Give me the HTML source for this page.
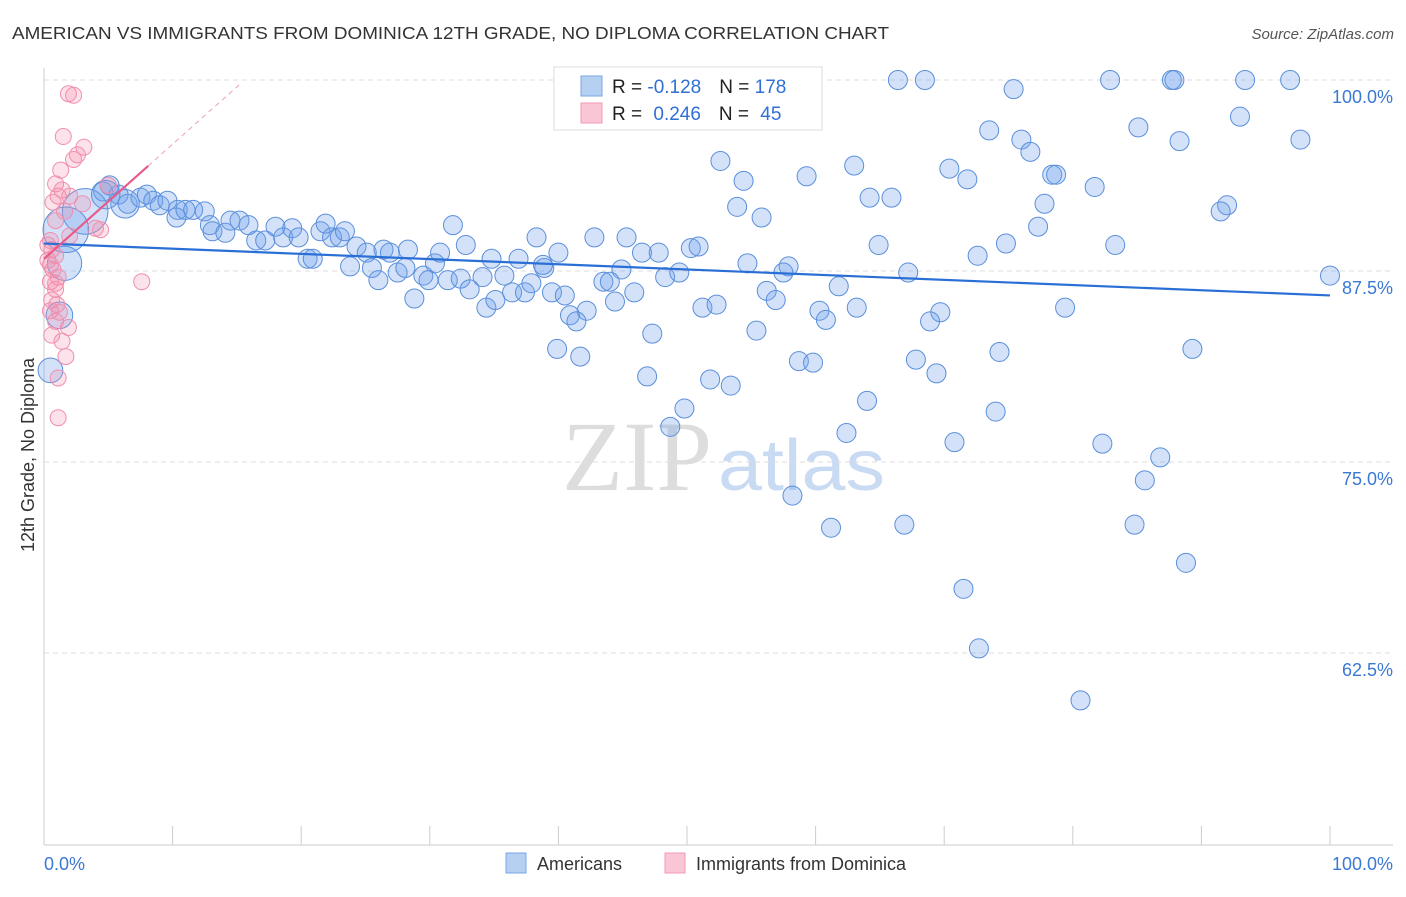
<!DOCTYPE html>
<html><head><meta charset="utf-8"><style>
body{margin:0;background:#fff;font-family:"Liberation Sans",sans-serif;}
svg text{font-family:"Liberation Sans",sans-serif;}
</style></head><body>
<svg id="chart" width="1406" height="892" xmlns="http://www.w3.org/2000/svg">
<text x="12" y="39" font-size="17.5" fill="#333" textLength="877" lengthAdjust="spacingAndGlyphs">AMERICAN VS IMMIGRANTS FROM DOMINICA 12TH GRADE, NO DIPLOMA CORRELATION CHART</text>
<text x="1394" y="39" font-size="15" fill="#555" font-style="italic" text-anchor="end">Source: ZipAtlas.com</text>
<g>
<text x="712" y="490" font-size="100" fill="#ddd" text-anchor="end" style="font-family:'Liberation Serif',serif">ZIP</text>
<text x="718" y="490" font-size="72" fill="#c9daf3" textLength="167" lengthAdjust="spacingAndGlyphs">atlas</text>
</g>
<g id="grid"></g>
<g id="pts"></g>
<g id="lines"></g>
<text transform="translate(34,455) rotate(-90)" font-size="18" fill="#333" text-anchor="middle">12th Grade, No Diploma</text>
<text x="44" y="870" font-size="18" fill="#3a78d4">0.0%</text>
<text x="1393" y="870" font-size="18" fill="#3a78d4" text-anchor="end">100.0%</text>
<g>
<rect x="554" y="67" width="268" height="63" fill="#fff" stroke="#ddd"/>
<rect x="581" y="76" width="21" height="20" fill="#b6d0f4" stroke="#7aa6e6"/>
<rect x="581" y="103" width="21" height="20" fill="#fac6d6" stroke="#f09ab6"/>
<text x="612" y="93" font-size="19" fill="#222">R = <tspan fill="#2f6fd6">-0.128</tspan><tspan dx="18">N = </tspan><tspan fill="#2f6fd6">178</tspan></text>
<text x="612" y="120" font-size="19" fill="#222">R = <tspan fill="#2f6fd6" dx="6">0.246</tspan><tspan dx="18">N = </tspan><tspan fill="#2f6fd6" dx="6">45</tspan></text>
</g>
<g>
<rect x="506" y="853" width="20" height="20" fill="#b6d0f4" stroke="#7aa6e6"/>
<text x="537" y="870" font-size="18" fill="#333">Americans</text>
<rect x="665" y="853" width="20" height="20" fill="#fac6d6" stroke="#f09ab6"/>
<text x="696" y="870" font-size="18" fill="#333">Immigrants from Dominica</text>
</g>
</svg>
<script>
const yTicks=[100,87.5,75,62.5];
const yTickLabels=["100.0%","87.5%","75.0%","62.5%"];
const xTicks=[0,10,20,30,40,50,60,70,80,90,100];
const blueX=[66.4,68.5,82.9,87.7,87.9,93.4,96.9,75.4,93.0,73.5,85.1,76.0,88.3,97.7,76.7,52.6,63.0,70.4,59.3,54.4,71.8,78.4,78.7,81.7,64.2,65.9,77.8,53.9,92.0,91.5,55.8,31.8,77.3,74.8,83.3,64.9,42.8,38.3,45.3,32.8,50.3,50.9,46.5,47.8,72.6,34.8,36.9,54.7,57.9,57.5,67.2,100,38.9,44.9,48.3,49.4,43.5,44.0,45.9,56.2,56.9,61.8,51.2,52.3,63.2,60.3,60.8,79.4,69.7,68.9,55.4,47.3,42.2,40.9,41.4,44.4,39.9,41.7,58.7,59.8,67.8,74.3,89.3,46.9,51.8,53.4,69.4,64.0,49.8,74.0,48.7,62.4,70.8,82.3,86.8,85.6,58.2,61.2,66.9,84.8,88.8,71.5,72.7,80.6,
4.6,5.1,5.8,6.5,7.5,8.0,8.5,9.0,9.6,10.4,10.3,11.0,11.6,12.5,12.9,13.1,14.1,14.5,15.2,15.9,16.5,17.2,18.0,18.6,19.3,19.8,20.5,20.9,21.5,21.9,22.4,23.0,23.4,23.8,24.3,25.1,25.5,26.0,26.4,26.9,27.5,28.1,28.3,28.8,29.5,29.9,30.4,30.8,31.4,32.4,33.1,34.1,34.4,35.1,35.8,36.4,37.4,37.9,38.8,39.5,40.5,40.0,
3.2,1.7,1.6,1.2,0.5,6.3,4.8];
const blueY=[100,100,100,100,100,100,100,99.4,97.6,96.7,96.9,96.1,96.0,96.1,95.3,94.7,94.4,94.2,93.7,93.4,93.5,93.8,93.8,93.0,92.3,92.3,91.9,91.7,91.8,91.4,91.0,90.5,90.4,89.3,89.2,89.2,89.7,89.7,89.7,89.2,89.0,89.1,88.7,88.7,88.5,88.3,88.3,88.0,87.8,87.4,87.4,87.2,87.7,87.6,87.1,87.4,86.8,86.8,86.1,86.2,85.6,86.5,85.1,85.3,85.1,84.9,84.3,85.1,84.8,84.2,83.6,83.4,84.9,84.6,84.2,85.5,82.4,81.9,81.6,81.5,81.7,82.2,82.4,80.6,80.4,80.0,80.8,79.0,78.5,78.3,77.3,76.9,76.3,76.2,75.3,73.8,72.8,70.7,70.9,70.9,68.4,66.7,62.8,59.4,
92.7,93.1,92.5,91.9,92.3,92.5,92.1,91.8,92.1,91.5,91.0,91.5,91.5,91.4,90.5,90.1,90.0,90.8,90.8,90.5,89.5,89.5,90.4,89.7,90.3,89.7,88.3,88.3,90.1,90.6,89.7,89.7,90.1,87.8,89.1,88.7,87.7,86.9,88.9,88.7,87.4,87.7,88.9,85.7,87.2,86.9,88.0,88.7,86.9,87.0,86.3,87.1,85.1,85.6,87.2,86.1,86.1,86.7,87.9,86.1,85.9,88.7,
91.4,90.2,88.0,84.6,81.0,91.9,92.5];
const blueSize=[2.4,2.4,1.8,1.4,1.3,1.5,1.5];
const pinkX=[1.9,2.3,1.5,3.1,2.6,2.3,1.3,0.9,1.1,1.4,2.0,0.7,1.6,0.9,4.4,4.0,2.0,0.5,0.6,0.9,0.5,0.7,1.1,0.5,0.9,0.6,1.0,0.5,1.2,0.9,0.6,1.9,1.4,1.7,1.1,7.6,1.1,5.0,3.0,0.3,0.3,0.9];
const pinkY=[99.1,99.0,96.3,95.6,95.1,94.8,94.1,93.2,92.4,92.8,92.4,92.0,91.4,90.8,90.2,90.3,89.8,89.5,88.9,88.5,87.9,87.6,87.1,86.8,86.3,85.6,85.3,84.9,84.8,84.2,83.3,83.8,82.9,81.9,80.5,86.8,77.9,93.1,91.9,88.2,89.2,86.7];
const blueTrend=[89.3,85.9];
const pinkTrend=[88.3,0.75];
const NS="http://www.w3.org/2000/svg";
const X0=44,X1=1330,Y100=80,PXPER=191/12.5;
function sx(v){return X0+(X1-X0)*v/100;}
function sy(v){return Y100+(100-v)*PXPER;}
function mk(t,a,p){const e=document.createElementNS(NS,t);for(const k in a)e.setAttribute(k,a[k]);p.appendChild(e);return e;}
const grid=document.getElementById('grid');
mk('line',{x1:44,y1:845,x2:1393,y2:845,stroke:'#ccc'},grid);
mk('line',{x1:44,y1:68,x2:44,y2:845,stroke:'#ccc'},grid);
yTicks.forEach((t,i)=>{
 const l=mk('line',{x1:44,y1:sy(t),x2:1393,y2:sy(t),stroke:'#ddd','stroke-dasharray':'5,4'},grid);
 
 
 const tx=mk('text',{x:1393,y:sy(t)+23,'font-size':18,fill:'#3a78d4','text-anchor':'end'},grid);
 tx.textContent=yTickLabels[i];
 
 
});
xTicks.forEach(t=>{
 const l=mk('line',{x1:sx(t),y1:826,x2:sx(t),y2:845,stroke:'#ccc'},grid);
 
 
});
const pts=document.getElementById('pts');
const nb=blueX.length, bigStart=nb-blueSize.length;
blueX.forEach((x,i)=>{
 const s=i>=bigStart?blueSize[i-bigStart]:1;
 const c=mk('circle',{cx:sx(x),cy:sy(blueY[i]),r:9.5*s,fill:'rgba(110,160,235,0.3)',stroke:'#5b8fdb','stroke-width':1},pts);
 
 
});
pinkX.forEach((x,i)=>{
 const c=mk('circle',{cx:sx(x),cy:sy(pinkY[i]),r:8,fill:'rgba(245,140,170,0.25)',stroke:'#f08fae','stroke-width':1},pts);
 
 
});
const lines=document.getElementById('lines');
const bl=mk('line',{x1:sx(0),y1:sy(blueTrend[0]),x2:sx(100),y2:sy(blueTrend[1]),stroke:'#2a6fd6','stroke-width':2.2},lines);


const pl=mk('line',{x1:sx(0),y1:sy(pinkTrend[0]),x2:sx(8.1),y2:sy(pinkTrend[0]+pinkTrend[1]*8.1),stroke:'#e85a8a','stroke-width':2.2},lines);


const pd=mk('line',{x1:sx(8.1),y1:sy(pinkTrend[0]+pinkTrend[1]*8.1),x2:sx(15.2),y2:sy(pinkTrend[0]+pinkTrend[1]*15.2),stroke:'#eea0ba','stroke-width':1,'stroke-dasharray':'5,4'},lines);


</script>
</body></html>
